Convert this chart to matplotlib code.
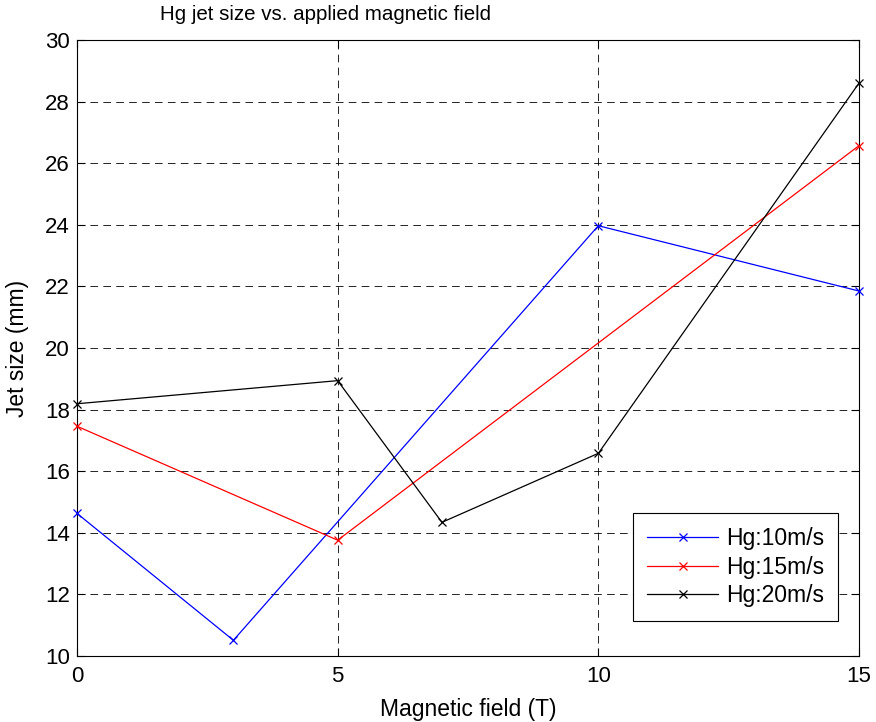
import matplotlib
matplotlib.use("Agg")
import matplotlib.pyplot as plt

plt.rcParams['font.family'] = ['Liberation Sans', 'DejaVu Sans']
plt.rcParams['lines.scale_dashes'] = False

x10 = [0, 3, 10, 15]
y10 = [14.63, 10.51, 23.97, 21.85]
x15 = [0, 5, 15]
y15 = [17.46, 13.76, 26.57]
x20 = [0, 5, 7, 10, 15]
y20 = [18.19, 18.94, 14.34, 16.58, 28.6]
labels = ['Hg:10m/s', 'Hg:15m/s', 'Hg:20m/s']
colors = ['#0000ff', '#ff0000', '#000000']

FS_T = 14.8
FS_TICK = 16
FS_LAB = 16.5
FS_LEG = 16.5

fig = plt.figure(figsize=(8.76, 7.22), dpi=100)
ax = fig.add_axes([77/876, 1-656/722, (859-77)/876, (656-40)/722])

for xs, ys, lab, c in zip([x10, x15, x20], [y10, y15, y20], labels, colors):
    ax.plot(xs, ys, color=c, marker='x', markersize=6, linewidth=0.9,
            markeredgewidth=0.9, label=lab, clip_on=False, zorder=3)

ax.set_xlim(0, 15)
ax.set_ylim(10, 30)
ax.set_xticks([0, 5, 10, 15])
ax.set_yticks(list(range(10, 31, 2)))
ax.grid(True, color='black', linestyle=(0, (5.5, 3.8)), linewidth=0.6)
ax.tick_params(direction='in', length=6, width=0.8, top=True, right=True,
               labelsize=FS_TICK)
ax.tick_params(axis='x', pad=7)
ax.tick_params(axis='y', pad=5)
for s in ax.spines.values():
    s.set_linewidth(0.8)

ax.set_xlabel('Magnetic field (T)', fontsize=FS_LAB, labelpad=8)
ax.set_ylabel('Jet size (mm)', fontsize=FS_LAB, labelpad=12)
fig.text(325/876, 1-14/722, 'Hg jet size vs. applied magnetic field',
         ha='center', va='center', fontsize=FS_T)

leg = ax.legend(loc='lower right', bbox_to_anchor=(838/876, 1-621/722),
                bbox_transform=fig.transFigure, fontsize=FS_LEG, fancybox=False,
                framealpha=1, edgecolor='black', handlelength=3.1,
                handletextpad=0.35, borderpad=0.6, labelspacing=0.25,
                borderaxespad=0)
leg.get_frame().set_linewidth(0.8)

fig.savefig('out.png', dpi=100)
